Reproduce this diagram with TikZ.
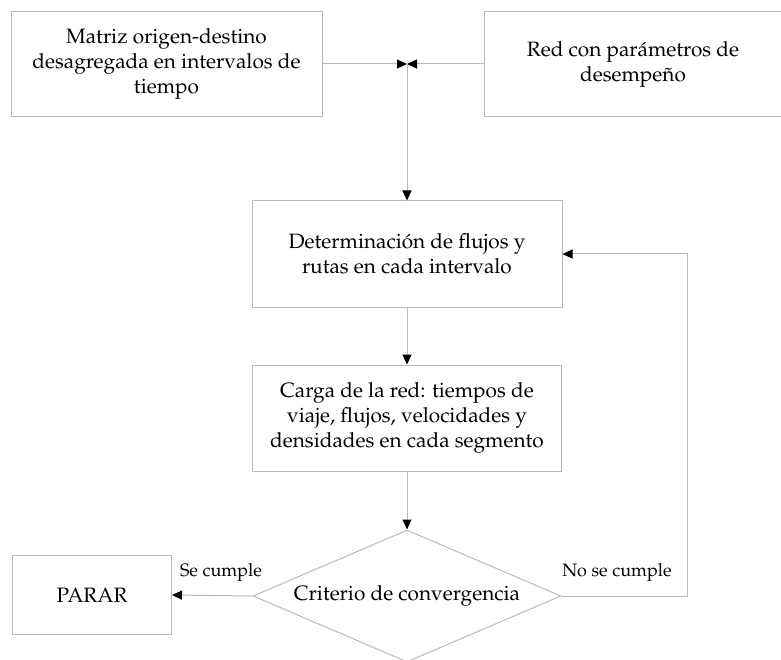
\documentclass[tikz,border=0pt]{standalone}
\usepackage[T1]{fontenc}
\usepackage{mathpazo}
\usetikzlibrary{arrows.meta,shapes.geometric}
\definecolor{edgegray}{HTML}{B8B8B8}
\begin{document}
\begin{tikzpicture}[x=1pt,y=-1pt,
  every node/.style={font=\fontsize{20.8}{25}\selectfont, align=center, inner sep=0pt},
  procbox/.style={draw=edgegray, line width=1pt},
  decision/.style={diamond, aspect=2.4, draw=edgegray, line width=1pt, inner sep=0pt},
  link/.style={draw=edgegray, line width=1pt, -{Triangle[length=10pt,width=9pt,color=black]}},
  tag/.style={font=\fontsize{18}{21}\selectfont}
]
\useasboundingbox (0,0) rectangle (781,660);

% process boxes
\node[procbox, minimum width=311, minimum height=105] (m) at (166.5,64)
  {Matriz origen-destino\\desagregada en intervalos de\\tiempo};
\node[procbox, minimum width=298, minimum height=105] (r) at (633,64)
  {Red con par\'ametros de\\desempe\~no};
\node[procbox, minimum width=310, minimum height=106] (d) at (407,254)
  {Determinaci\'on de flujos y\\rutas en cada intervalo};
\node[procbox, minimum width=309, minimum height=106] (c) at (407,418)
  {Carga de la red: tiempos de\\viaje, flujos, velocidades y\\densidades en cada segmento};
\node[decision, minimum width=308, minimum height=132] (k) at (407,596)
  {Criterio de convergencia};
\node[procbox, minimum width=159, minimum height=79] (p) at (92,595) {PARAR};

% junction where both inputs meet
\coordinate (j) at (407,64);

% connectors
\draw[link] (m.east) -- (j);
\draw[link] (r.west) -- (j);
\draw[link] (j) -- (d.north);
\draw[link] (d) -- (c);
\draw[link] (c) -- (k);
\draw[link] (k.west) -- (p.east);
\draw[link] (k.east) -- ++(126,0) |- (d.east);

% branch labels
\node[tag] (yes) at (221,573) {Se cumple};
\node[tag] (no) at (617,573) {No se cumple};
\end{tikzpicture}
\end{document}
